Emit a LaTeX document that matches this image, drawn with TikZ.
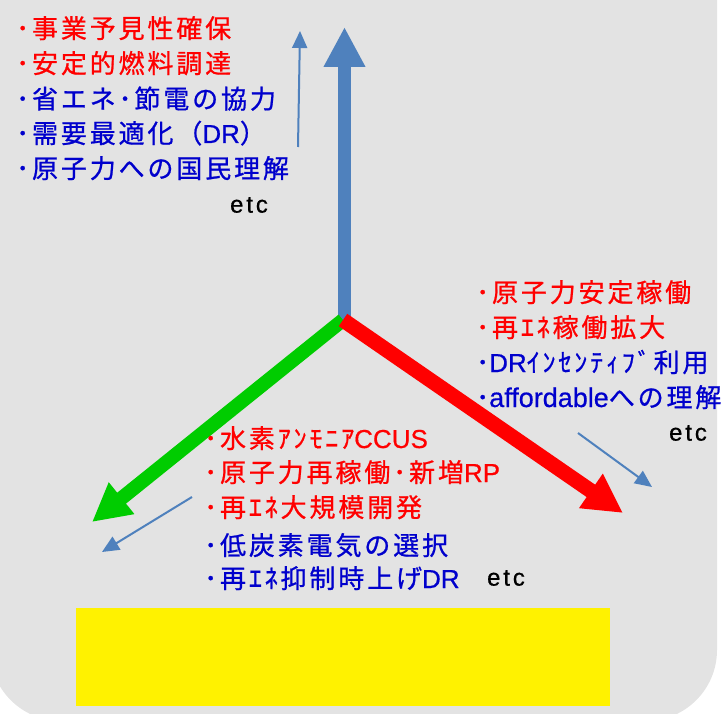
\documentclass[tikz,border=0pt]{standalone}
\usepackage{fontspec}
\usetikzlibrary{arrows.meta}
\newfontfamily\jp[LetterSpace=11, FakeBold=0.8]{Noto Sans CJK JP}
\newfontfamily\lat[FakeBold=0.6]{Liberation Sans}
\newfontfamily\latsp[LetterSpace=12, FakeBold=0.6]{Liberation Sans}
\definecolor{bgrey}{HTML}{E3E3E3}
\definecolor{arrblue}{HTML}{4F81BD}
\definecolor{txtred}{HTML}{FF0000}
\definecolor{txtblue}{HTML}{0000CC}
\definecolor{agreen}{HTML}{00CC00}
\begin{document}
\begin{tikzpicture}[x=1pt,y=-1pt,
  item/.style={anchor=base west, inner sep=0pt, font=\jp\fontsize{26pt}{30pt}\selectfont},
  ritem/.style={item, text=txtred},
  bitem/.style={item, text=txtblue},
  etcnode/.style={anchor=center, inner sep=0pt, font=\latsp\fontsize{24pt}{28pt}\selectfont},
  thinarrow/.style={arrblue, line width=2pt, -{Triangle[width=15pt,length=17pt]}}
]
\useasboundingbox (0,0) rectangle (728,714);
\fill[bgrey, rounded corners=71pt] (-10,-100) rectangle (717,721);
\node[fill=yellow, minimum width=534pt, minimum height=98pt, inner sep=0pt, anchor=north west] (ybox) at (76,608) {};

% coordinates
\coordinate (O) at (343,320);
\coordinate (Bblue) at (344.5,322);
\coordinate (Tblue) at (344.5,27);
\coordinate (Tred) at (623,513);
\coordinate (Tgreen) at (92,522);
\coordinate (s1a) at (298,147);
\coordinate (s1b) at (300,31);
\coordinate (s2a) at (192,497);
\coordinate (s2b) at (102,552);
\coordinate (s3a) at (578,433);
\coordinate (s3b) at (652,487);

% big arrows
\draw[arrblue, line width=13pt, -{Triangle[width=39pt,length=40pt]}] (Bblue) -- (Tblue);
\draw[agreen, line width=14pt, -{Triangle[width=38pt,length=38pt]}] (O) -- (Tgreen);
\draw[txtred, line width=15pt, -{Triangle[width=39pt,length=39pt]}] (O) -- (Tred);

% thin arrows
\draw[thinarrow] (s1a) -- (s1b);
\draw[thinarrow] (s2a) -- (s2b);
\draw[thinarrow] (s3a) -- (s3b);

% top list
\node[ritem] (t1) at (16,38) {･事業予見性確保};
\node[ritem] (t2) at (16,73) {･安定的燃料調達};
\node[bitem] (t3) at (16,108.5) {･省エネ･節電の協力};
\node[bitem] (t4) at (16,143) {･需要最適化（{\lat DR}）};
\node[bitem] (t5) at (16,178) {･原子力への国民理解};
\node[etcnode] (e1) at (249,205) {etc};

% right list
\node[ritem] (r1) at (476,302) {･原子力安定稼働};
\node[ritem] (r2) at (476,337) {･再ｴﾈ稼働拡大};
\node[bitem] (r3) at (476,372) {･{\lat DR}ｲﾝｾﾝﾃｨﾌﾞ利用};
\node[bitem] (r4) at (476,407) {･{\lat\fontsize{27pt}{30pt}\selectfont affordable}への理解};
\node[etcnode] (e2) at (688,433) {etc};

% bottom list
\node[ritem] (b1) at (204,448) {･水素ｱﾝﾓﾆｱ{\lat CCUS}};
\node[ritem] (b2) at (204,482) {･原子力再稼働･新増{\lat RP}};
\node[ritem] (b3) at (204,517) {･再ｴﾈ大規模開発};
\node[bitem] (b4) at (204,555) {･低炭素電気の選択};
\node[bitem] (b5) at (204,588) {･再ｴﾈ抑制時上げ{\lat DR}};
\node[etcnode] (e3) at (506,578) {etc};
\end{tikzpicture}
\end{document}
